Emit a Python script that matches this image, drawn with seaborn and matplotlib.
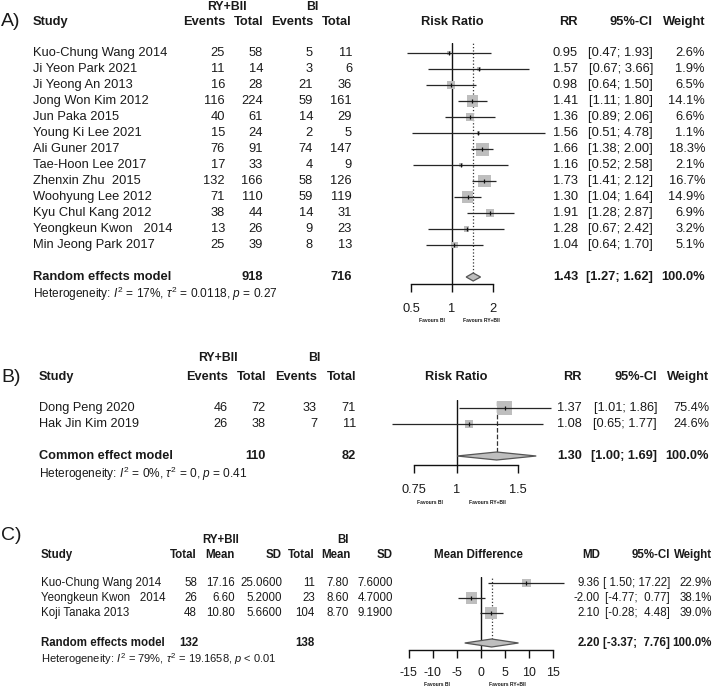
import numpy as np
import matplotlib
matplotlib.use("Agg")
import matplotlib.pyplot as plt
from matplotlib.ticker import NullLocator
from matplotlib import font_manager
import seaborn as sns

# ---------------- data: panel A (risk ratio, random effects) ----------------
a_study = ["Kuo-Chung Wang 2014", "Ji Yeon Park 2021", "Ji Yeong An 2013", "Jong Won Kim 2012",
           "Jun Paka 2015", "Young Ki Lee 2021", "Ali Guner 2017", "Tae-Hoon Lee 2017",
           "Zhenxin Zhu  2015", "Woohyung Lee 2012", "Kyu Chul Kang 2012", "Yeongkeun Kwon   2014",
           "Min Jeong Park 2017"]
a_ev_e = [25, 11, 16, 116, 40, 15, 76, 17, 132, 71, 38, 13, 25]
a_tot_e = [58, 14, 28, 224, 61, 24, 91, 33, 166, 110, 44, 26, 39]
a_ev_c = [5, 3, 21, 59, 14, 2, 74, 4, 58, 59, 14, 9, 8]
a_tot_c = [11, 6, 36, 161, 29, 5, 147, 9, 126, 119, 31, 23, 13]
a_rr = [0.95, 1.57, 0.98, 1.41, 1.36, 1.56, 1.66, 1.16, 1.73, 1.30, 1.91, 1.28, 1.04]
a_lo = [0.47, 0.67, 0.64, 1.11, 0.89, 0.51, 1.38, 0.52, 1.41, 1.04, 1.28, 0.67, 0.64]
a_hi = [1.93, 3.66, 1.50, 1.80, 2.06, 4.78, 2.00, 2.58, 2.12, 1.64, 2.87, 2.42, 1.70]
a_w = [2.6, 1.9, 6.5, 14.1, 6.6, 1.1, 18.3, 2.1, 16.7, 14.9, 6.9, 3.2, 5.1]
a_sum = [1.43, 1.27, 1.62]
a_sum_n = [918, 716]
a_ticks = [0.5, 1, 2]
a_tick_labels = ["0.5", "1", "2"]
a_het = r"Heterogeneity: $I^2$ = 17%, $\tau^2$ = 0.0118, $p$ = 0.27"

# ---------------- data: panel B (risk ratio, common effect) ----------------
b_study = ["Dong Peng 2020", "Hak Jin Kim 2019"]
b_ev_e = [46, 26]
b_tot_e = [72, 38]
b_ev_c = [33, 7]
b_tot_c = [71, 11]
b_rr = [1.37, 1.08]
b_lo = [1.01, 0.65]
b_hi = [1.86, 1.77]
b_w = [75.4, 24.6]
b_sum = [1.30, 1.00, 1.69]
b_sum_n = [110, 82]
b_ticks = [0.75, 1, 1.5]
b_tick_labels = ["0.75", "1", "1.5"]
b_het = r"Heterogeneity: $I^2$ = 0%, $\tau^2$ = 0, $p$ = 0.41"

# ---------------- data: panel C (mean difference, random effects) ----------------
c_study = ["Kuo-Chung Wang 2014", "Yeongkeun Kwon   2014", "Koji Tanaka 2013"]
c_tot_e = [58, 26, 48]
c_mean_e = [17.16, 6.60, 10.80]
c_sd_e = [25.06, 5.20, 5.66]
c_tot_c = [11, 23, 104]
c_mean_c = [7.80, 8.60, 8.70]
c_sd_c = [7.60, 4.70, 9.19]
c_md = [9.36, -2.00, 2.10]
c_lo = [1.50, -4.77, -0.28]
c_hi = [17.22, 0.77, 4.48]
c_w = [22.9, 38.1, 39.0]
c_sum = [2.20, -3.37, 7.76]
c_sum_n = [132, 138]
c_ticks = [-15, -10, -5, 0, 5, 10, 15]
c_tick_labels = ["-15", "-10", "-5", "0", "5", "10", "15"]
c_het = r"Heterogeneity: $I^2$ = 79%, $\tau^2$ = 19.1658, $p$ < 0.01"

# ---------------- style ----------------
sns.set_theme(style="white")
avail = {f.name for f in font_manager.fontManager.ttflist}
REG = "Liberation Sans" if "Liberation Sans" in avail else "DejaVu Sans"
plt.rcParams["font.family"] = [REG, "DejaVu Sans"]
plt.rcParams["mathtext.fontset"] = "custom"
plt.rcParams["mathtext.rm"] = REG
plt.rcParams["mathtext.it"] = REG + ":italic"
plt.rcParams["mathtext.bf"] = REG + ":bold"

W, H = 715, 688
fig = plt.figure(figsize=(W / 100, H / 100), dpi=100, facecolor="white")
txt = fig.add_axes([0, 0, 1, 1])
txt.set_xlim(0, W)
txt.set_ylim(H, 0)
txt.axis("off")

TC = "#1a1a1a"
SQ = "#BEBEBE"
FS = 9.3      # panel A text
BFS = 9.2     # panel B text
CFS = 8.3     # panel C text


def T(x, y, s, ha="left", bold=False, size=FS, color=TC):
    txt.text(x, y, s, ha=ha, va="center", fontsize=size,
             fontweight="bold" if bold else "normal", family=REG, color=color)


def forest(px_l, px_r, py_top, py_axis, y0, sp, xnull, k, log,
           est, lo, hi, w, side_max, summ, ticks, tick_labels, ref_ls, fsz, pad):
    rect = [px_l / W, 1 - py_axis / H, (px_r - px_l) / W, (py_axis - py_top) / H]
    ax = fig.add_axes(rect)
    ax.patch.set_alpha(0)
    if log:
        ax.set_xscale("log")
        null = 1.0
    else:
        null = 0.0
    rows = np.arange(len(est))
    s_idx = len(est) + 1
    wmax = max(w)
    sizes = [(side_max * np.sqrt(v / wmax) * 0.72) ** 2 for v in w]
    sns.scatterplot(x=est, y=rows, s=sizes, marker="s", color=SQ, edgecolor="none",
                    linewidth=0, ax=ax, legend=False, zorder=2)
    ax.hlines(rows, lo, hi, color="#262626", lw=0.9, zorder=3)
    ax.scatter(est, rows, marker="|", s=(4.5 * 0.72) ** 2, color="#111111",
               linewidths=0.9, zorder=4)
    idx_top = (py_top - y0) / sp
    idx_bot = (py_axis - y0) / sp
    dh = 4.0 / sp
    ax.fill([summ[1], summ[0], summ[2], summ[0]],
            [s_idx, s_idx - dh, s_idx, s_idx + dh],
            facecolor=SQ, edgecolor="#555555", lw=0.9, zorder=3)
    ax.axvline(null, color="#111111", lw=1.0, zorder=1)
    ax.vlines(summ[0], s_idx - dh, idx_top, color="#333333", lw=0.9,
              linestyles=ref_ls, zorder=1)
    if log:
        xl = (np.exp((px_l - xnull) / k), np.exp((px_r - xnull) / k))
    else:
        xl = ((px_l - xnull) / k, (px_r - xnull) / k)
    ax.set_xlim(*xl)
    ax.set_ylim(idx_bot, idx_top)
    for sname in ["top", "right", "left"]:
        ax.spines[sname].set_visible(False)
    ax.spines["bottom"].set_color("#111111")
    ax.spines["bottom"].set_linewidth(1.0)
    ax.spines["bottom"].set_bounds(ticks[0], ticks[-1])
    ax.set_xticks(ticks)
    ax.set_xticklabels(tick_labels)
    ax.xaxis.set_minor_locator(NullLocator())
    ax.set_yticks([])
    ax.set_xlabel("")
    ax.set_ylabel("")
    ax.tick_params(axis="x", direction="out", length=5.5, width=1.0, color="#111111",
                   pad=pad, labelsize=fsz, labelcolor=TC, bottom=True)
    for lab in ax.get_xticklabels():
        lab.set_family(REG)
    return ax


# ======================= Panel A =======================
y0, sp = 53, 16
T(1, 22, "A)", size=14)
T(33, 22, "Study", bold=True)
T(227, 7, "RY+BII", ha="center", bold=True, size=8.8)
T(312, 7, "BI", ha="center", bold=True, size=8.8)
for x, s in [(225, "Events"), (263, "Total"), (313, "Events"), (352, "Total")]:
    T(x, 22, s, ha="right", bold=True)
T(452, 22, "Risk Ratio", ha="center", bold=True)
T(578, 22, "RR", ha="right", bold=True)
T(653, 22, "95%-CI", ha="right", bold=True)
T(705, 22, "Weight", ha="right", bold=True)
for i in range(len(a_study)):
    y = y0 + sp * i
    T(33, y, a_study[i])
    T(225, y, str(a_ev_e[i]), ha="right")
    T(263, y, str(a_tot_e[i]), ha="right")
    T(313, y, str(a_ev_c[i]), ha="right")
    T(352, y, str(a_tot_c[i]), ha="right")
    T(578, y, f"{a_rr[i]:.2f}", ha="right")
    T(653, y, f"[{a_lo[i]:.2f}; {a_hi[i]:.2f}]", ha="right")
    T(705, y, f"{a_w[i]:.1f}%", ha="right")
ys = y0 + sp * (len(a_study) + 1)
T(33, ys, "Random effects model", bold=True)
T(263, ys, str(a_sum_n[0]), ha="right", bold=True)
T(352, ys, str(a_sum_n[1]), ha="right", bold=True)
T(578, ys, f"{a_sum[0]:.2f}", ha="right", bold=True)
T(653, ys, f"[{a_sum[1]:.2f}; {a_sum[2]:.2f}]", ha="right", bold=True)
T(705, ys, "100.0%", ha="right", bold=True)
T(33, ys + 17, a_het, size=8.6)
forest(398, 555, 43, 284, y0, sp, 452, 59.2, True, a_rr, a_lo, a_hi, a_w, 13,
       a_sum, a_ticks, a_tick_labels, ":", FS, 8.5)
T(432, 320, "Favours BI", ha="center", size=3.6, bold=True)
T(481, 320, "Favours RY+BII", ha="center", size=3.6, bold=True)

# ======================= Panel B =======================
y0, sp = 408, 16
T(1, 377, "B)", size=14)
T(39, 377, "Study", bold=True, size=BFS)
T(218, 358, "RY+BII", ha="center", bold=True, size=BFS - 0.4)
T(314, 358, "BI", ha="center", bold=True, size=BFS - 0.4)
for x, s in [(228, "Events"), (266, "Total"), (317, "Events"), (356, "Total")]:
    T(x, 377, s, ha="right", bold=True, size=BFS)
T(456, 377, "Risk Ratio", ha="center", bold=True, size=BFS)
T(582, 377, "RR", ha="right", bold=True, size=BFS)
T(657, 377, "95%-CI", ha="right", bold=True, size=BFS)
T(709, 377, "Weight", ha="right", bold=True, size=BFS)
for i in range(len(b_study)):
    y = y0 + sp * i
    T(39, y, b_study[i], size=BFS)
    T(228, y, str(b_ev_e[i]), ha="right", size=BFS)
    T(266, y, str(b_tot_e[i]), ha="right", size=BFS)
    T(317, y, str(b_ev_c[i]), ha="right", size=BFS)
    T(356, y, str(b_tot_c[i]), ha="right", size=BFS)
    T(582, y, f"{b_rr[i]:.2f}", ha="right", size=BFS)
    T(657, y, f"[{b_lo[i]:.2f}; {b_hi[i]:.2f}]", ha="right", size=BFS)
    T(709, y, f"{b_w[i]:.1f}%", ha="right", size=BFS)
ys = y0 + sp * (len(b_study) + 1)
T(39, ys, "Common effect model", bold=True, size=BFS)
T(266, ys, str(b_sum_n[0]), ha="right", bold=True, size=BFS)
T(356, ys, str(b_sum_n[1]), ha="right", bold=True, size=BFS)
T(582, ys, f"{b_sum[0]:.2f}", ha="right", bold=True, size=BFS)
T(657, ys, f"[{b_sum[1]:.2f}; {b_sum[2]:.2f}]", ha="right", bold=True, size=BFS)
T(709, ys, "100.0%", ha="right", bold=True, size=BFS)
T(39, ys + 18, b_het, size=BFS - 0.6)
forest(390, 560, 400, 465, y0, sp, 457, 151, True, b_rr, b_lo, b_hi, b_w, 14.3,
       b_sum, b_ticks, b_tick_labels, "--", BFS, 8.5)
T(430, 503, "Favours BI", ha="center", size=3.6, bold=True)
T(487, 503, "Favours RY+BII", ha="center", size=3.6, bold=True)

# ======================= Panel C =======================
y0, sp = 583, 15
T(1, 535, "C)", size=14)
T(41, 555, "Study", bold=True, size=CFS)
T(221, 540, "RY+BII", ha="center", bold=True, size=CFS)
T(343, 540, "BI", ha="center", bold=True, size=CFS)
for x, s in [(197, "Total"), (235, "Mean"), (282, "SD"), (315, "Total"), (351, "Mean"), (393, "SD")]:
    T(x, 555, s, ha="right", bold=True, size=CFS)
T(478, 555, "Mean Difference", ha="center", bold=True, size=CFS)
T(600, 555, "MD", ha="right", bold=True, size=CFS)
T(670, 555, "95%-CI", ha="right", bold=True, size=CFS)
T(712, 555, "Weight", ha="right", bold=True, size=CFS)
for i in range(len(c_study)):
    y = y0 + sp * i
    T(41, y, c_study[i], size=CFS)
    T(197, y, str(c_tot_e[i]), ha="right", size=CFS)
    T(235, y, f"{c_mean_e[i]:.2f}", ha="right", size=CFS)
    T(282, y, f"{c_sd_e[i]:.4f}", ha="right", size=CFS)
    T(315, y, str(c_tot_c[i]), ha="right", size=CFS)
    T(349, y, f"{c_mean_c[i]:.2f}", ha="right", size=CFS)
    T(393, y, f"{c_sd_c[i]:.4f}", ha="right", size=CFS)
    T(600, y, f"{c_md[i]:.2f}", ha="right", size=CFS)
    T(670, y, f"[{c_lo[i]:5.2f}; {c_hi[i]:5.2f}]", ha="right", size=CFS)
    T(712, y, f"{c_w[i]:.1f}%", ha="right", size=CFS)
ys = y0 + sp * (len(c_study) + 1)
T(41, ys, "Random effects model", bold=True, size=CFS)
T(198, ys, str(c_sum_n[0]), ha="right", bold=True, size=CFS)
T(315, ys, str(c_sum_n[1]), ha="right", bold=True, size=CFS)
T(600, ys, f"{c_sum[0]:.2f}", ha="right", bold=True, size=CFS)
T(670, ys, f"[{c_sum[1]:5.2f}; {c_sum[2]:5.2f}]", ha="right", bold=True, size=CFS)
T(712, ys, "100.0%", ha="right", bold=True, size=CFS)
T(41, ys + 16, c_het, size=CFS - 0.3)
forest(400, 568, 577, 650, y0, sp, 481, 4.83, False, c_md, c_lo, c_hi, c_w, 11.5,
       c_sum, c_ticks, c_tick_labels, ":", CFS + 0.6, 7)
T(437, 685, "Favours BI", ha="center", size=3.6, bold=True)
T(507, 685, "Favours RY+BII", ha="center", size=3.6, bold=True)

fig.savefig("out.png", dpi=100, facecolor="white")
